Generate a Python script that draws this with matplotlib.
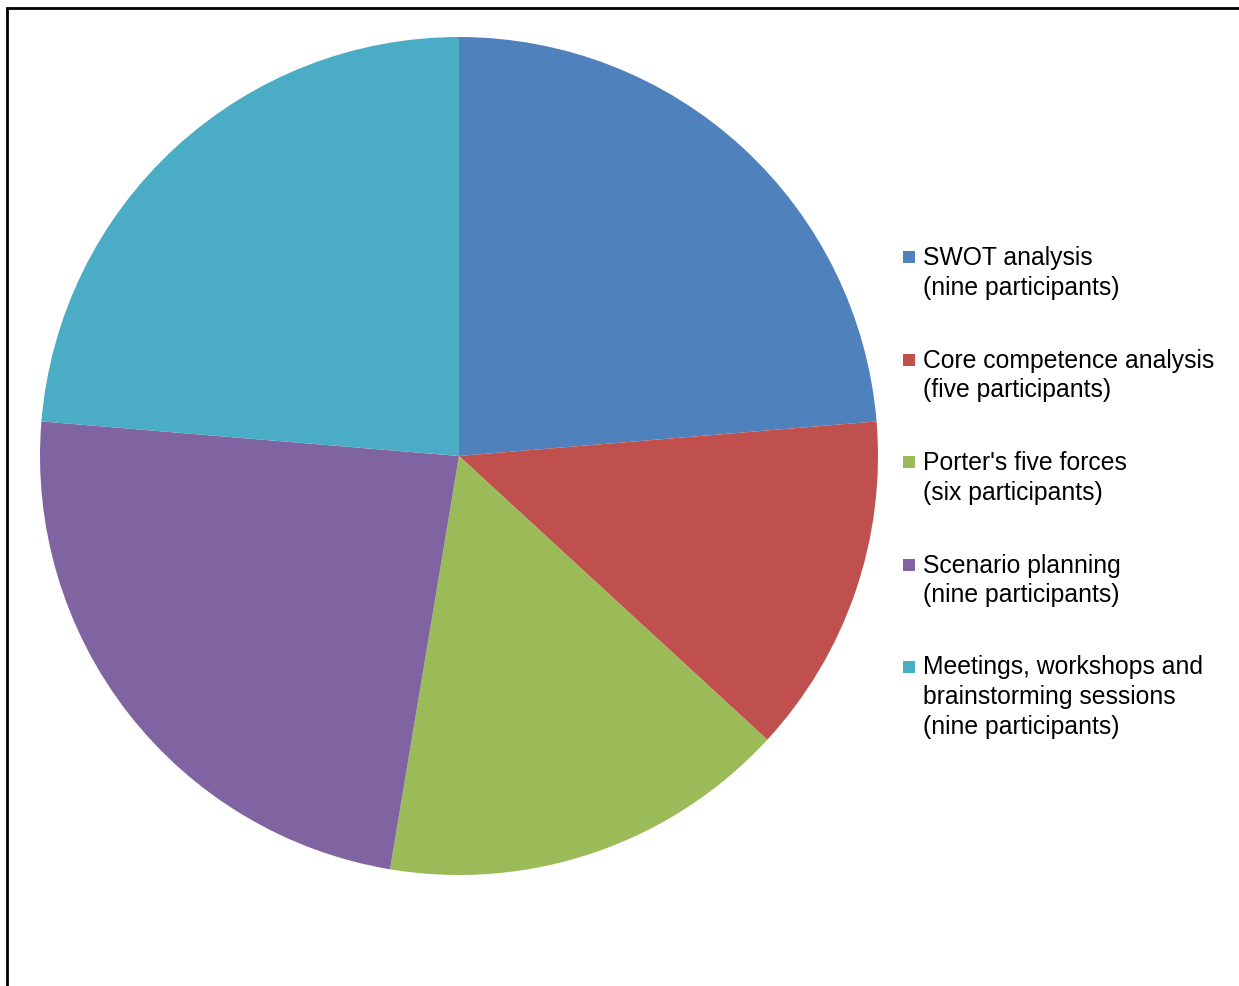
import matplotlib.pyplot as plt
from matplotlib.patches import Rectangle
from matplotlib.lines import Line2D

plt.rcParams['font.family'] = ['Liberation Sans', 'DejaVu Sans']

# data
labels = ["SWOT analysis\n(nine participants)",
          "Core competence analysis\n(five participants)",
          "Porter's five forces\n(six participants)",
          "Scenario planning\n(nine participants)",
          "Meetings, workshops and\nbrainstorming sessions\n(nine participants)"]
values = [9, 5, 6, 9, 9]
colors = ['#4F81BD', '#C0504D', '#9BBB59', '#8064A2', '#4BACC6']

W, H = 1239, 987
fig = plt.figure(figsize=(W / 100, H / 100), dpi=100)

# pie centre (459,457) radius 419 px
cx, cy, r = 459, 457, 419
ax = fig.add_axes([(cx - r) / W, (H - cy - r) / H, 2 * r / W, 2 * r / H])
ax.pie(values, colors=colors, startangle=90, counterclock=False, radius=1,
       wedgeprops=dict(linewidth=0))
ax.set_xlim(-1, 1)
ax.set_ylim(-1, 1)
ax.set_aspect('equal')
ax.axis('off')

# legend, drawn by hand so the square sits on the first line
base0 = 266      # baseline of first line of first entry (px from top)
step = 102.5     # distance between entries
lh = 29          # line height
for i, (lab, col) in enumerate(zip(labels, colors)):
    yb = base0 + i * step
    nl = lab.count('\n')
    fig.patches.append(Rectangle((903 / W, 1 - (yb - 2) / H), 12 / W, 12 / H,
                                 transform=fig.transFigure, facecolor=col,
                                 edgecolor='none'))
    fig.text(923 / W, 1 - (yb + nl * lh) / H, lab, fontsize=17.8,
             va='baseline', ha='left', linespacing=1.31, color='#000000')

# frame lines (top and left)
fig.add_artist(Line2D([6 / W, 1], [1 - 9 / H, 1 - 9 / H], color='black', lw=2,
                      transform=fig.transFigure, solid_capstyle='butt'))
fig.add_artist(Line2D([7 / W, 7 / W], [1 - 8 / H, 0], color='black', lw=2,
                      transform=fig.transFigure, solid_capstyle='butt'))

fig.savefig('out.png', dpi=100)
